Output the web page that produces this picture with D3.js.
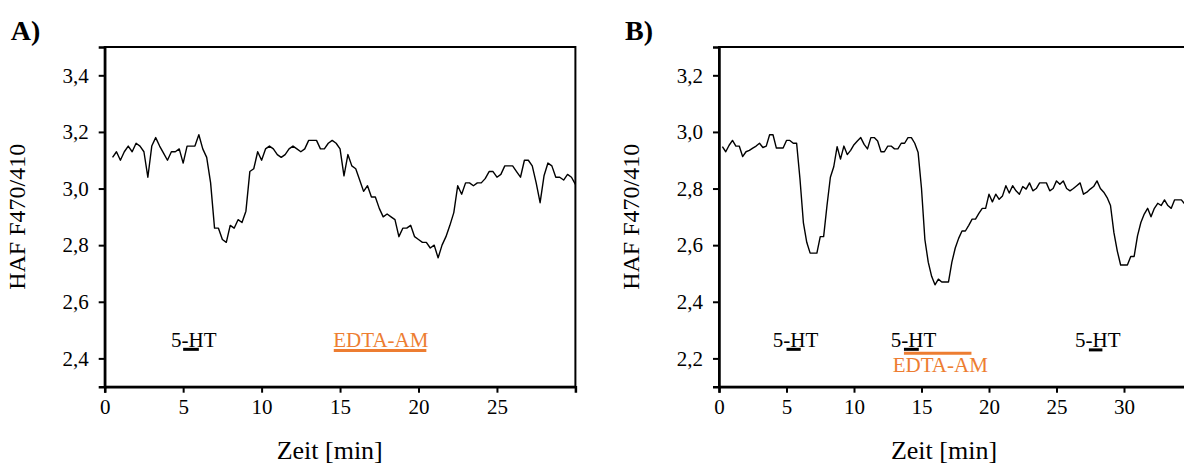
<!DOCTYPE html>
<html>
<head>
<meta charset="utf-8">
<script src="https://cdn.jsdelivr.net/npm/d3@7"></script>
<style>
    body { margin: 0; background: #fff; }
    svg { display: block; font-family: "Liberation Serif", "Times New Roman", serif; }
</style>
</head>
<body>
<svg id="chart"></svg>
<script>
// sampling of the traces (min)
const stepMin = 0.25;
const startA = 0.5;
const startB = 0.25;

// HAF F470/410, panel A (0.5 ... 30 min)
const valuesA = [
    3.11, 3.13, 3.10, 3.13, 3.15, 3.13, 3.16, 3.15, 3.13, 3.04,
    3.15, 3.18, 3.15, 3.125, 3.10, 3.13, 3.13, 3.14, 3.09, 3.15,
    3.15, 3.15, 3.19, 3.14, 3.11, 3.02, 2.86, 2.86, 2.82, 2.81,
    2.87, 2.86, 2.89, 2.88, 2.92, 3.06, 3.07, 3.13, 3.10, 3.14,
    3.15, 3.14, 3.12, 3.11, 3.12, 3.14, 3.15, 3.14, 3.13, 3.14,
    3.17, 3.17, 3.17, 3.14, 3.14, 3.16, 3.17, 3.16, 3.14, 3.045,
    3.12, 3.08, 3.07, 3.03, 2.99, 3.01, 2.97, 2.97, 2.93, 2.90,
    2.91, 2.90, 2.89, 2.83, 2.86, 2.86, 2.87, 2.83, 2.82, 2.81,
    2.81, 2.79, 2.80, 2.755, 2.80, 2.83, 2.87, 2.915, 3.01, 2.98,
    3.02, 3.02, 3.01, 3.02, 3.02, 3.035, 3.06, 3.06, 3.04, 3.05,
    3.08, 3.08, 3.08, 3.06, 3.04, 3.10, 3.10, 3.08, 3.02, 2.95,
    3.045, 3.09, 3.08, 3.04, 3.04, 3.03, 3.05, 3.04, 3.015
];

// HAF F470/410, panel B (0.25 ... 34.5 min)
const valuesB = [
    2.948, 2.93, 2.953, 2.97, 2.95, 2.95, 2.913, 2.93, 2.935, 2.943,
    2.95, 2.96, 2.945, 2.95, 2.99, 2.99, 2.943, 2.943, 2.943, 2.97,
    2.97, 2.96, 2.96, 2.833, 2.68, 2.61, 2.572, 2.572, 2.572, 2.63,
    2.63, 2.74, 2.84, 2.877, 2.948, 2.904, 2.95, 2.92, 2.935, 2.955,
    2.968, 2.98, 2.956, 2.94, 2.98, 2.98, 2.968, 2.93, 2.93, 2.95,
    2.95, 2.94, 2.94, 2.96, 2.96, 2.98, 2.98, 2.96, 2.927, 2.80,
    2.62, 2.54, 2.49, 2.46, 2.48, 2.47, 2.47, 2.47, 2.54, 2.59,
    2.624, 2.65, 2.65, 2.67, 2.692, 2.692, 2.712, 2.73, 2.73, 2.78,
    2.753, 2.78, 2.762, 2.774, 2.81, 2.784, 2.81, 2.792, 2.78, 2.807,
    2.798, 2.82, 2.792, 2.80, 2.82, 2.82, 2.82, 2.792, 2.80, 2.827,
    2.815, 2.827, 2.80, 2.792, 2.80, 2.81, 2.82, 2.78, 2.787, 2.798,
    2.807, 2.827, 2.80, 2.787, 2.768, 2.74, 2.645, 2.58, 2.53, 2.53,
    2.53, 2.56, 2.56, 2.633, 2.68, 2.71, 2.73, 2.70, 2.73, 2.748,
    2.74, 2.76, 2.74, 2.73, 2.76, 2.76, 2.76, 2.745
];

const xTicksA = [0, 5, 10, 15, 20, 25];
const yTicksA = [2.4, 2.6, 2.8, 3.0, 3.2, 3.4];
const xTicksB = [0, 5, 10, 15, 20, 25, 30];
const yTicksB = [2.2, 2.4, 2.6, 2.8, 3.0, 3.2];

// application markers: label, bar start/end (min), bar level, label position
const barsA = [
    { label: "5-HT", start: 5.0, end: 6.0, y: 2.432, color: "#000", textAt: 4.23, textY: 2.44 },
    { label: "EDTA-AM", start: 14.6, end: 20.5, y: 2.428, color: "#ED7D31", textAt: 14.57, textY: 2.44 }
];
const barsB = [
    { label: "5-HT", start: 5.0, end: 6.05, y: 2.232, color: "#000", textAt: 3.98, textY: 2.24 },
    { label: "5-HT", start: 13.7, end: 14.8, y: 2.232, color: "#000", textAt: 12.72, textY: 2.24 },
    { label: "EDTA-AM", start: 13.7, end: 18.7, y: 2.218, color: "#ED7D31", textAt: 12.87, textY: 2.153 },
    { label: "5-HT", start: 27.4, end: 28.4, y: 2.23, color: "#000", textAt: 26.37, textY: 2.24 }
];

const width = 1184;
const height = 464;
const commaFmt = v => d3.format(".1f")(v).replace(".", ",");

const svg = d3.select("#chart")
    .attr("width", width)
    .attr("height", height);

function drawPanel(cfg) {
    const g = svg.append("g");

    const x = d3.scaleLinear().domain(cfg.xDomain).range([cfg.left, cfg.right]);
    const y = d3.scaleLinear().domain(cfg.yDomain).range([cfg.bottom, cfg.top]);

    // frame
    g.append("rect")
        .attr("x", cfg.left)
        .attr("y", cfg.top)
        .attr("width", cfg.right - cfg.left)
        .attr("height", cfg.bottom - cfg.top)
        .attr("fill", "none")
        .attr("stroke", "#000")
        .attr("stroke-width", 2);

    const xAxis = g.append("g")
        .attr("transform", `translate(0, ${cfg.bottom})`)
        .call(d3.axisBottom(x).tickValues(cfg.xTicks).tickSize(6).tickPadding(6).tickFormat(d3.format("d")));

    const yAxis = g.append("g")
        .attr("transform", `translate(${cfg.left}, 0)`)
        .call(d3.axisLeft(y).tickValues(cfg.yTicks).tickSize(6).tickPadding(10).tickFormat(commaFmt));

    [xAxis, yAxis].forEach(a => {
        a.select(".domain").attr("stroke-width", 2.5);
        a.selectAll(".tick line").attr("stroke-width", 2);
        a.selectAll(".tick text")
            .attr("font-size", 21)
            .attr("font-family", "Liberation Serif, Times New Roman, serif")
            .attr("fill", "#000");
    });

    const data = cfg.values.map((v, i) => [cfg.start + i * stepMin, v]);

    g.append("path")
        .datum(data)
        .attr("fill", "none")
        .attr("stroke", "#000")
        .attr("stroke-width", 1.4)
        .attr("stroke-linejoin", "round")
        .attr("d", d3.line().x(d => x(d[0])).y(d => y(d[1])));

    // application markers
    cfg.bars.forEach(b => {
        g.append("text")
            .attr("x", x(b.textAt))
            .attr("y", y(b.textY))
            .attr("font-size", 21)
            .attr("fill", b.color)
            .text(b.label);
        g.append("line")
            .attr("x1", x(b.start))
            .attr("x2", x(b.end))
            .attr("y1", y(b.y))
            .attr("y2", y(b.y))
            .attr("stroke", b.color)
            .attr("stroke-width", 3);
    });

    g.append("text")
        .attr("x", cfg.left + 225)
        .attr("y", 459)
        .attr("text-anchor", "middle")
        .attr("font-size", 26)
        .text("Zeit [min]");

    g.append("text")
        .attr("transform", `translate(${cfg.left - 80}, ${(cfg.top + cfg.bottom) / 2}) rotate(-90)`)
        .attr("text-anchor", "middle")
        .attr("font-size", 24)
        .text("HAF F470/410");

    g.append("text")
        .attr("x", cfg.left - 94)
        .attr("y", 40)
        .attr("font-size", 28)
        .attr("font-weight", "bold")
        .text(cfg.tag);
}

drawPanel({
    tag: "A)",
    values: valuesA, start: startA, bars: barsA,
    xDomain: [0, 30], yDomain: [2.3, 3.5],
    xTicks: xTicksA, yTicks: yTicksA,
    left: 104.7, right: 575.4, top: 47, bottom: 386.7
});

drawPanel({
    tag: "B)",
    values: valuesB, start: startB, bars: barsB,
    xDomain: [0, 35], yDomain: [2.1, 3.3],
    xTicks: xTicksB, yTicks: yTicksB,
    left: 719, right: 1191.5, top: 47, bottom: 386.7
});
</script>
</body>
</html>
